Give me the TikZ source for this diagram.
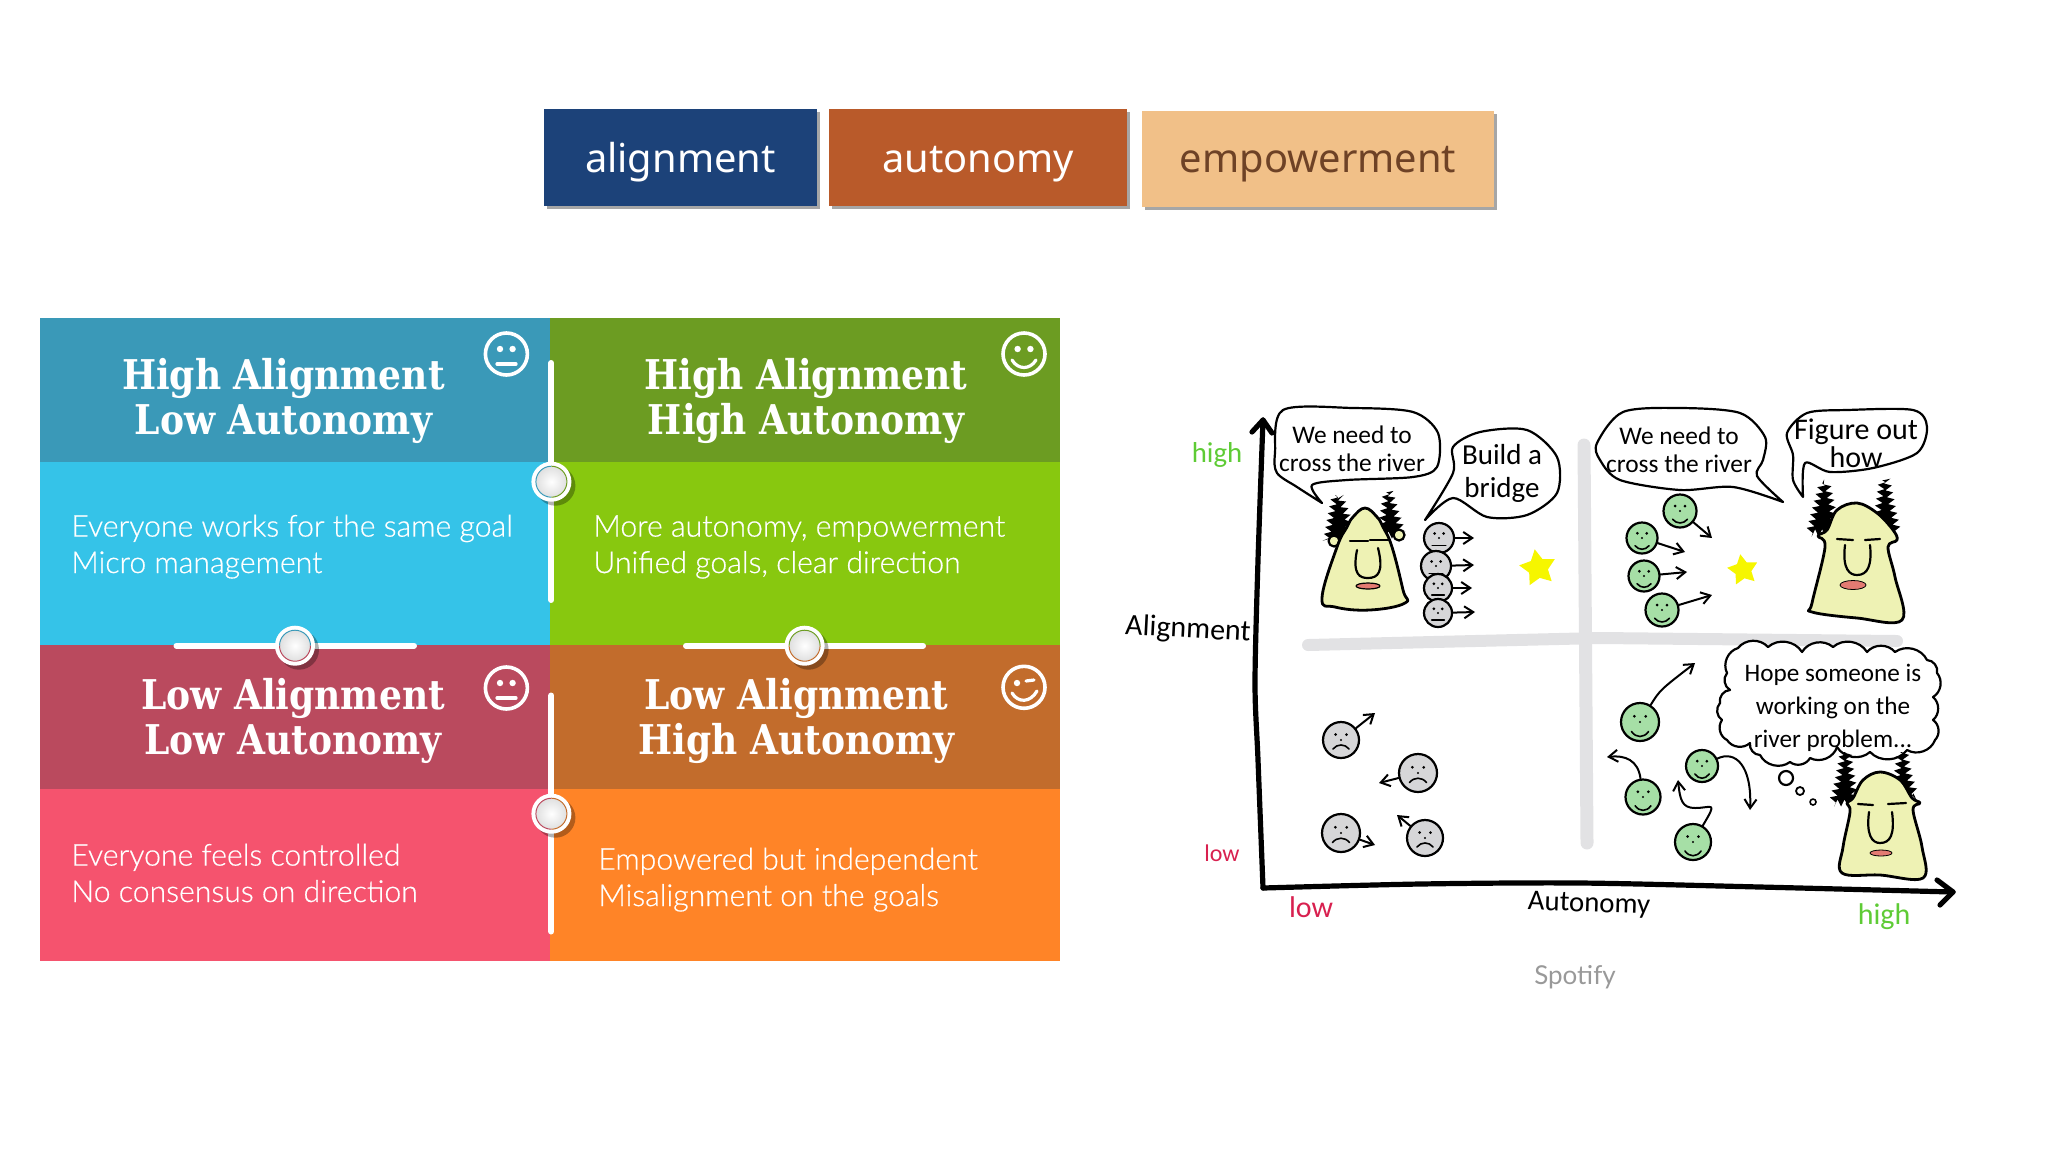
\documentclass[tikz,border=0pt]{standalone}
\usepackage{fontspec}
\setmainfont{Lato}
\newfontfamily\slabfont[FakeStretch=.88]{DejaVu Serif}
\newfontfamily\lightfont[FakeBold=.5]{Lato Light}
\newfontfamily\boxfont{Noto Sans}
\newfontfamily\inkfont{Carlito}
\usetikzlibrary{shapes.geometric,shadows,arrows.meta,decorations.pathmorphing}
\definecolor{boxblue}{HTML}{1C4279}
\definecolor{boxrust}{HTML}{B95A2A}
\definecolor{boxtan}{HTML}{F1C088}
\definecolor{boxink}{HTML}{6E4226}
\definecolor{headcyan}{HTML}{3A99B8}
\definecolor{bodycyan}{HTML}{35C3E8}
\definecolor{headgreen}{HTML}{6C9C22}
\definecolor{bodygreen}{HTML}{88C80F}
\definecolor{headred}{HTML}{BA4A5E}
\definecolor{bodyred}{HTML}{F5536E}
\definecolor{headorange}{HTML}{C26C2C}
\definecolor{bodyorange}{HTML}{FF8427}
\definecolor{skin}{HTML}{EEF2B4}
\definecolor{lipred}{HTML}{E37B72}
\definecolor{facegreen}{HTML}{A6DFA6}
\definecolor{facegrey}{HTML}{D6D6D8}
\definecolor{crossgrey}{HTML}{E2E2E4}
\definecolor{starfill}{HTML}{F6F600}
\definecolor{inkgreen}{HTML}{5ECB35}
\definecolor{inkred}{HTML}{D8204F}
\tikzset{
	topbox/.style={inner sep=0pt,drop shadow={shadow xshift=1.5pt,shadow yshift=-1.5pt,opacity=.35,fill=black},font=\boxfont\fontsize{19.9}{22}\selectfont},
	titletext/.style={anchor=base,align=center,inner sep=0pt,text=white,font=\slabfont\bfseries\fontsize{20.5}{22.2}\selectfont},
	bodytext/.style={anchor=base west,align=left,inner sep=0pt,text=white,font=\lightfont\fontsize{15.1}{18.2}\selectfont},
	whitebar/.style={white,line width=3pt,line cap=round},
	marble/.style={circle,fill=white,minimum size=20pt,inner sep=0pt,drop shadow={shadow xshift=2pt,shadow yshift=-2pt,opacity=.3,fill=black}},
	panelface/.style={circle,draw=white,line width=1.8pt,minimum size=20pt,inner sep=0pt},
	panelmouth/.style={white,line width=1.6pt,line cap=round},
	ink/.style={black,line width=1.1pt,line cap=round,line join=round},
	axisink/.style={black,line width=2.6pt,line cap=round,line join=round},
	bubble/.style={ink,fill=white},
	scallop/.style={bend left=50},
	speech/.style={inner sep=0pt,align=center,font=\inkfont\fontsize{12.7}{14}\selectfont},
	sketchface/.style={circle,draw=black,line width=1.1pt,inner sep=0pt},
	inkarrow/.style={ink,line width=1pt,-{Straight Barb[length=4.5pt,width=6pt,line width=1pt]}},
	hairtuft/.style={black,decorate,decoration={zigzag,segment length=3.5pt,amplitude=1.8pt}},
	yellowstar/.style={star,star points=5,star point ratio=1.9,fill=starfill,inner sep=0pt},
	axislabel/.style={inner sep=0pt}
}
% small face of the sketch: name, position, radius, colour, mouth curve
\newcommand{\smallface}[5]{
	\node[sketchface,fill=#4,minimum size=#3pt] (#1) at (#2) {};
	\begin{scope}[shift={(#2)}]
		\fill (-.3*#3,-.3*#3) circle (1.5) (.3*#3,-.3*#3) circle (1.5) (0,0) circle (1.2);
		\draw[black,line width=.8pt,line cap=round] (-.45*#3,.5*#3) .. controls (-.2*#3,.5*#3+#5*#3) and (.2*#3,.5*#3+#5*#3) .. (.45*#3,.5*#3);
	\end{scope}
}
% ring inside a marble: name, colour one, colour two, start angle
\newcommand{\marblering}[4]{
	\shade[inner color=white,outer color=black!12] (#1) circle (15);
	\draw[#2,line width=.5pt] ([shift={(#4:15.5)}]#1.center) arc (#4:#4+180:15.5);
	\draw[#3,line width=.5pt] ([shift={(#4+180:15.5)}]#1.center) arc (#4+180:#4+360:15.5);
}
\begin{document}
\begin{tikzpicture}[x=0.5pt,y=-0.5pt]
	\useasboundingbox (0,0) rectangle (2048,1152);
	% three boxes at the top
	\node[topbox,fill=boxblue,text=white,minimum width=136.2pt,minimum height=48.6pt,text height=15.4pt,text depth=0pt] (alignbox) at (680.4,157.3) {alignment};
	\node[topbox,fill=boxrust,text=white,minimum width=148.8pt,minimum height=48.6pt,text height=15.4pt,text depth=0pt] (autobox) at (978.2,157.3) {autonomy};
	\node[topbox,fill=boxtan,text=boxink,minimum width=176pt,minimum height=48pt,text height=13.4pt,text depth=0pt] (empowerbox) at (1318,159.3) {empowerment};
	% the four panels
	\fill[headcyan] (39.6,318.3) rectangle (549.5,462);
	\fill[bodycyan] (39.6,462) rectangle (549.5,645);
	\fill[headgreen] (549.5,318.3) rectangle (1059.5,462);
	\fill[bodygreen] (549.5,462) rectangle (1059.5,645);
	\fill[headred] (39.6,645) rectangle (549.5,788.7);
	\fill[bodyred] (39.6,788.7) rectangle (549.5,961);
	\fill[headorange] (549.5,645) rectangle (1059.5,788.7);
	\fill[bodyorange] (549.5,788.7) rectangle (1059.5,961);
	\node[titletext] (titleone) at (283.4,434) {High Alignment\\Low Autonomy};
	\node[titletext] (titletwo) at (806,434) {High Alignment\\High Autonomy};
	\node[titletext] (titlethree) at (293,754) {Low Alignment\\Low Autonomy};
	\node[titletext] (titlefour) at (796.5,754) {Low Alignment\\High Autonomy};
	\node[bodytext,anchor=base west] (textone) at (71,573) {Everyone works for the same goal\\Micro management};
	\node[bodytext,anchor=base west] (texttwo) at (593,573) {More autonomy, empowerment\\Unified goals, clear direction};
	\node[bodytext,anchor=base west] (textthree) at (71,902) {Everyone feels controlled\\No consensus on direction};
	\node[bodytext,anchor=base west] (textfour) at (598,906) {Empowered but independent\\Misalignment on the goals};
	% bars and marbles
	\coordinate (barAtop) at (551.4,363);
	\coordinate (barAbot) at (551.4,600);
	\coordinate (barBtop) at (551.4,695.5);
	\coordinate (barBbot) at (551.4,931.5);
	\coordinate (barCleft) at (176.5,645.7);
	\coordinate (barCright) at (414,645.7);
	\coordinate (barDleft) at (686,645.7);
	\coordinate (barDright) at (923,645.7);
	\draw[whitebar] (barAtop) -- (barAbot);
	\draw[whitebar] (barBtop) -- (barBbot);
	\draw[whitebar] (barCleft) -- (barCright);
	\draw[whitebar] (barDleft) -- (barDright);
	\node[marble] (marbleA) at (551.4,481.7) {};
	\node[marble] (marbleB) at (551.4,813.7) {};
	\node[marble] (marbleC) at (295,645.7) {};
	\node[marble] (marbleD) at (804.6,645.7) {};
	\marblering{marbleA}{headcyan}{headgreen}{90}
	\marblering{marbleB}{headred}{headorange}{90}
	\marblering{marbleC}{headcyan}{headred}{180}
	\marblering{marbleD}{headgreen}{headorange}{180}
	% faces on the panels
	\node[panelface,minimum size=21pt] (faceone) at (506.4,354) {};
	\fill[white] (500,349) circle (3.2) (512.6,349) circle (3.2);
	\draw[panelmouth] (497,364) -- (516,364);
	\node[panelface,minimum size=21pt] (facetwo) at (1024,354) {};
	\fill[white] (1017.6,349) circle (3.2) (1030.4,349) circle (3.2);
	\draw[panelmouth] (1012,360) .. controls (1018,370) and (1030,370) .. (1036,360);
	\node[panelface,minimum size=21pt] (facethree) at (506.4,688) {};
	\fill[white] (500,683) circle (3.2) (512.6,683) circle (3.2);
	\draw[panelmouth] (497,698) -- (516,698);
	\node[panelface,minimum size=21pt] (facefour) at (1024,687.3) {};
	\fill[white] (1017,683) circle (3.2);
	\draw[panelmouth] (1026,681) -- (1034,680);
	\draw[panelmouth] (1012,693) .. controls (1018,703) and (1030,703) .. (1037,691);
	% grey cross of the sketch
	\coordinate (crossleft) at (1308,645);
	\coordinate (crossright) at (1897,641);
	\coordinate (crosstop) at (1584,445);
	\coordinate (crossbot) at (1587,843);
	\draw[crossgrey,line width=6pt,line cap=round] (crossleft) -- (1600,638) -- (crossright);
	\draw[crossgrey,line width=6.5pt,line cap=round] (crosstop) -- (crossbot);
	% axes
	\coordinate (origin) at (1263,888);
	\coordinate (ytip) at (1263,420);
	\coordinate (xtip) at (1953,892);
	\draw[axisink] plot[smooth] coordinates {(origin) (1258,760) (1255,683) (1258,560) (ytip)};
	\draw[axisink] (1252,432) -- (ytip) -- (1272,433);
	\draw[axisink] plot[smooth] coordinates {(origin) (1420,884) (1580,883) (1760,887) (xtip)};
	\draw[axisink] (1937,880) -- (xtip) -- (1940,905);
	\node[axislabel,text=inkgreen,font=\inkfont\fontsize{14.4}{16}\selectfont] (highleft) at (1217,455) {high};
	\node[axislabel,rotate=-3,font=\inkfont\fontsize{15}{16}\selectfont] (alignlabel) at (1188,630) {Alignment};
	\node[axislabel,text=inkred,font=\inkfont\fontsize{12}{14}\selectfont] (lowleft) at (1222,853) {low};
	\node[axislabel,text=inkred,font=\inkfont\fontsize{15}{16}\selectfont] (lowbottom) at (1311,907) {low};
	\node[axislabel,rotate=-2,font=\inkfont\fontsize{14.4}{16}\selectfont] (autolabel) at (1589,905) {Autonomy};
	\node[axislabel,text=inkgreen,font=\inkfont\fontsize{15}{16}\selectfont] (highbottom) at (1884,917) {high};
	\node[inner sep=0pt,text=black!40,font=\fontsize{13}{15}\selectfont] (sourcelabel) at (1575,977) {Spotify};
	% speech bubbles
	\draw[bubble] plot[smooth] coordinates {(1322,503) (1312,485) (1347,480) (1413,477) (1437,467) (1438,433) (1413,412) (1353,408) (1283,410) (1275,453) (1277,473) (1297,487) (1322,503)};
	\node[speech] (riverone) at (1352,449) {We need to\\cross the river};
	\draw[bubble] plot[smooth] coordinates {(1425,520) (1453,498) (1487,517) (1527,515) (1557,493) (1557,457) (1527,430) (1480,432) (1453,447) (1453,473) (1425,520)};
	\node[speech,font=\inkfont\fontsize{14.5}{16.5}\selectfont] (bridgebubble) at (1502,473) {Build a\\bridge};
	\draw[bubble] plot[smooth] coordinates {(1783,502) (1733,487) (1680,490) (1620,480) (1600,460) (1597,443) (1623,412) (1680,408) (1740,413) (1765,437) (1763,460) (1757,476) (1783,502)};
	\node[speech] (rivertwo) at (1679,450) {We need to\\cross the river};
	\draw[bubble] plot[smooth] coordinates {(1803,497) (1805,463) (1830,472) (1873,468) (1917,453) (1927,427) (1913,410) (1847,410) (1807,413) (1787,433) (1793,455) (1793,480) (1803,497)};
	\node[speech,font=\inkfont\fontsize{15}{12.5}\selectfont] (figurebubble) at (1856,443) {Figure out\\how};
	% thought bubble
	\draw[bubble] (1738,648) to[scallop] (1768,647) to[scallop] (1802,652) to[scallop] (1833,647) to[scallop] (1867,652) to[scallop] (1895,652) to[scallop] (1927,660) to[scallop] (1937,673) to[scallop] (1933,697) to[scallop] (1933,720) to[scallop] (1935,740) to[scallop] (1907,750) to[scallop] (1870,752) to[scallop] (1837,747) to[scallop] (1810,758) to[scallop] (1790,762) to[scallop] (1760,755) to[scallop] (1750,743) to[scallop] (1727,740) to[scallop] (1722,720) to[scallop] (1720,703) to[scallop] (1730,690) to[scallop] (1727,673) to[scallop] (1738,648) -- cycle;
	\node[speech,font=\inkfont\fontsize{12.6}{16.5}\selectfont] (hopebubble) at (1833,708) {Hope someone is\\working on the\\river problem...};
	\draw[ink] (1786,778) circle (7);
	\draw[ink,line width=.9pt] (1800,791) circle (4);
	\draw[ink,line width=.8pt] (1813,802) circle (3);
	% first head
	\fill[hairtuft] (1335,495) -- (1330,520) -- (1326,542) -- (1350,540) -- (1348,518) -- (1340,495) -- cycle;
	\fill[hairtuft] (1386,492) -- (1383,515) -- (1381,535) -- (1403,535) -- (1396,512) -- (1390,492) -- cycle;
	\draw[ink,fill=skin] (1334,541) circle (5.5) (1399,535) circle (5.5);
	\draw[ink,line width=1.4pt,fill=skin] plot[smooth cycle,tension=.7] coordinates {(1322,598) (1335,607) (1370,610) (1405,603) (1403,590) (1392,547) (1383,527) (1377,517) (1365,508) (1353,517) (1347,527) (1337,547)};
	\draw[ink] (1350,541) -- (1368,541) (1370,540) -- (1390,540);
	\draw[ink] (1357,550) .. controls (1352,575) and (1360,578) .. (1368,578) .. controls (1378,578) and (1384,572) .. (1378,548);
	\draw[ink,line width=.6pt,fill=lipred] (1368,586) ellipse (12 and 3);
	% second head
	\fill[hairtuft] (1822,483) -- (1815,510) -- (1809,533) -- (1835,533) -- (1832,505) -- (1827,483) -- cycle;
	\fill[hairtuft] (1882,480) -- (1878,510) -- (1875,533) -- (1898,533) -- (1892,505) -- (1887,480) -- cycle;
	\draw[ink,line width=1.4pt,fill=skin] plot[smooth cycle,tension=.6] coordinates {(1812,612) (1857,618) (1902,620) (1895,577) (1888,547) (1897,540) (1893,530) (1877,513) (1857,503) (1837,510) (1827,530) (1818,536) (1825,547) (1812,603)};
	\draw[ink] (1837,539) -- (1853,540) (1865,540) -- (1880,539);
	\draw[ink] (1845,545) .. controls (1842,570) and (1850,575) .. (1857,575) .. controls (1868,575) and (1872,565) .. (1870,545);
	\draw[ink,line width=.4pt,fill=lipred] (1853,585) ellipse (13 and 4.5);
	% third head
	\fill[hairtuft] (1843,752) -- (1838,780) -- (1832,803) -- (1856,803) -- (1852,778) -- (1848,752) -- cycle;
	\fill[hairtuft] (1900,752) -- (1897,775) -- (1894,797) -- (1916,797) -- (1909,775) -- (1905,752) -- cycle;
	\draw[ink,line width=1.4pt,fill=skin] plot[smooth cycle,tension=.6] coordinates {(1842,873) (1880,875) (1923,878) (1922,847) (1913,810) (1920,803) (1912,798) (1900,780) (1880,772) (1863,780) (1853,798) (1847,803) (1850,812) (1843,847)};
	\draw[ink] (1858,804) -- (1873,805) (1888,804) -- (1906,803);
	\draw[ink] (1869,812) .. controls (1866,835) and (1872,843) .. (1880,843) .. controls (1890,843) and (1895,835) .. (1892,812);
	\draw[ink,line width=.4pt,fill=lipred] (1881,853) ellipse (11 and 3);
	% stars
	\node[yellowstar,minimum size=19pt,rotate=10] (starone) at (1538,568) {};
	\node[yellowstar,minimum size=16pt,rotate=10] (startwo) at (1743,570) {};
	% grey faces going the same way
	\smallface{greyA}{1439,538}{15}{facegrey}{0}
	\smallface{greyB}{1436,566}{15}{facegrey}{0}
	\smallface{greyC}{1438,588}{14}{facegrey}{0}
	\smallface{greyD}{1438,613}{14}{facegrey}{0}
	\coordinate (greyAtip) at (1474,538);
	\coordinate (greyBtip) at (1474,565);
	\coordinate (greyCtip) at (1472,588);
	\coordinate (greyDtip) at (1475,612);
	\draw[inkarrow] (greyA) -- (greyAtip);
	\draw[inkarrow] (greyB) -- (greyBtip);
	\draw[inkarrow] (greyC) -- (greyCtip);
	\draw[inkarrow] (greyD) -- (greyDtip);
	% green faces going the same way
	\smallface{greenA}{1680,511}{16.5}{facegreen}{.3}
	\smallface{greenB}{1642,538}{15.5}{facegreen}{.3}
	\smallface{greenC}{1644,576}{15.5}{facegreen}{.3}
	\smallface{greenD}{1662,610}{16.5}{facegreen}{.3}
	\coordinate (greenAtip) at (1712,538);
	\coordinate (greenBtip) at (1685,552);
	\coordinate (greenCtip) at (1687,572);
	\coordinate (greenDtip) at (1712,595);
	\draw[inkarrow] (greenA) -- (greenAtip);
	\draw[inkarrow] (greenB) -- (greenBtip);
	\draw[inkarrow] (greenC) -- (greenCtip);
	\draw[inkarrow] (greenD) -- (greenDtip);
	% sad faces at the bottom left
	\smallface{sadA}{1341,740}{18}{facegrey}{-.3}
	\smallface{sadB}{1418,773}{19}{facegrey}{-.3}
	\smallface{sadC}{1341,833}{19}{facegrey}{-.3}
	\smallface{sadD}{1425,838}{18}{facegrey}{-.3}
	\coordinate (sadAtip) at (1375,713);
	\coordinate (sadBtip) at (1379,783);
	\coordinate (sadCtip) at (1375,845);
	\coordinate (sadDtip) at (1397,815);
	\draw[inkarrow] (sadA) -- (sadAtip);
	\draw[inkarrow] (sadB) -- (sadBtip);
	\draw[inkarrow] (sadC) -- (sadCtip);
	\draw[inkarrow] (sadD) -- (sadDtip);
	% happy faces going their own way
	\smallface{lostA}{1640,722}{19}{facegreen}{.35}
	\smallface{lostB}{1643,797}{17.5}{facegreen}{.35}
	\smallface{lostC}{1702,766}{16}{facegreen}{.35}
	\smallface{lostD}{1693,842}{18}{facegreen}{.35}
	\coordinate (lostAtip) at (1695,663);
	\coordinate (lostBtip) at (1607,757);
	\coordinate (lostCtip) at (1750,810);
	\coordinate (lostDtip) at (1678,780);
	\draw[inkarrow] (lostA) .. controls (1660,690) .. (lostAtip);
	\draw[inkarrow] (lostB) .. controls (1638,760) and (1625,755) .. (lostBtip);
	\draw[inkarrow] (lostC) .. controls (1735,750) and (1752,765) .. (lostCtip);
	\draw[inkarrow] (lostD) .. controls (1718,800) and (1712,808) .. (1695,808) .. controls (1682,808) and (1680,800) .. (lostDtip);
\end{tikzpicture}
\end{document}
